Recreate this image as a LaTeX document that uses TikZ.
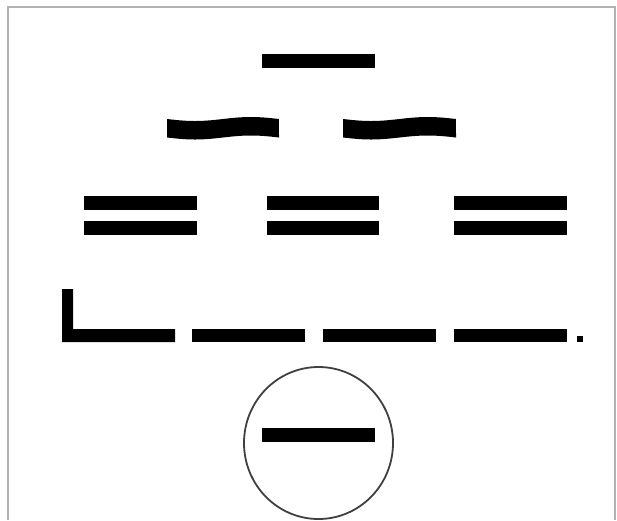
\documentclass[tikz,border=0pt]{standalone}
\begin{document}
\begin{tikzpicture}[x=1pt,y=-1pt,
  bar/.style={fill=black},
  frame/.style={draw=black!30,line width=1.5pt},
  ring/.style={draw=black!75,line width=1.8pt}]
\useasboundingbox[fill=white] (0,0) rectangle (617,520);
\draw[frame] (8,520) -- (8,7) -- (615,7) -- (615,520);
% top bar
\fill[bar] (262,54) rectangle (375,68);
% wavy bars
\foreach \s/\w in {167/112,343/113}{
  \fill[bar] plot[domain=0:1,samples=50] ({\s+\w*\x},{119+2*sin(360*\x)})
    -- plot[domain=1:0,samples=50] ({\s+\w*\x},{137.5+2*sin(360*\x)}) -- cycle;
}
% double bars
\foreach \a/\b in {84/197,267/379,454/567}{
  \fill[bar] (\a,196) rectangle (\b,210);
  \fill[bar] (\a,221) rectangle (\b,235);
}
% L shape and dashes
\fill[bar] (62,289) -- (73,289) -- (73,329) -- (175,329) -- (175,342) -- (62,342) -- cycle;
\fill[bar] (192,329) rectangle (305,342);
\fill[bar] (323,329) rectangle (436,342);
\fill[bar] (454,329) rectangle (567,342);
\fill[bar] (577,336) rectangle (583,342);
% circle with bar
\draw[ring] (318.5,443) ellipse [x radius=74.5, y radius=76];
\fill[bar] (262,428) rectangle (375,442);
\end{tikzpicture}
\end{document}
